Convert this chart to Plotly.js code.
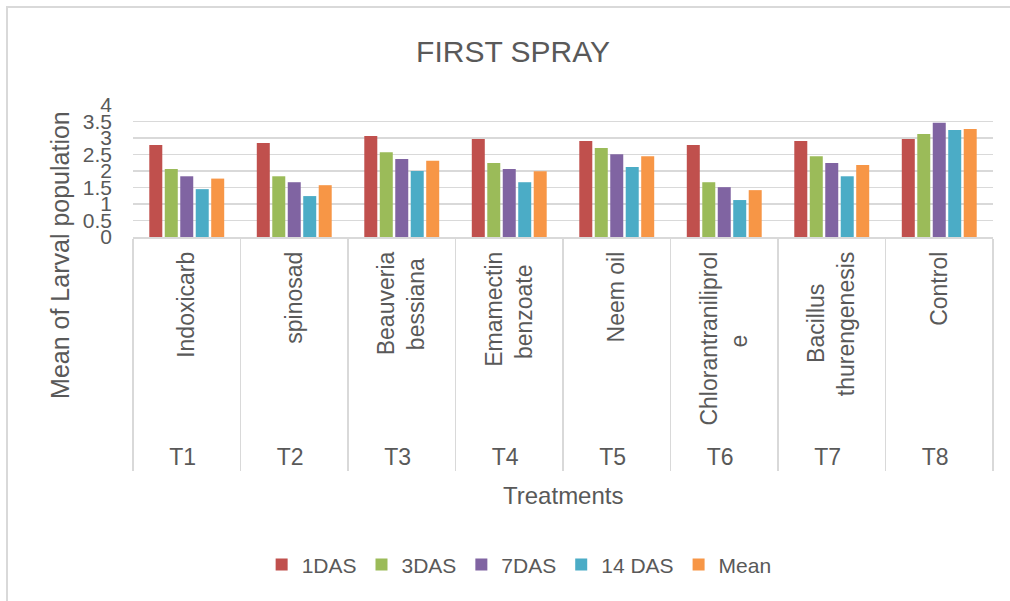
<!DOCTYPE html>
<html>
<head>
<meta charset="utf-8">
<script src="https://cdn.plot.ly/plotly-3.0.1.min.js"></script>
<style>
  html, body { margin: 0; padding: 0; background: #fff; }
  #wrap { position: relative; width: 1010px; height: 601px; }
  #chart { width: 1010px; height: 601px; }
  #frame { position: absolute; left: 6px; top: 6px; right: -10px; bottom: -10px;
           border-left: 2px solid #d9d9d9; border-top: 2px solid #d9d9d9; pointer-events: none; }
</style>
</head>
<body>
<div id="wrap"><div id="chart"></div><div id="frame"></div></div>
<script>
const NB = "\u00A0";
// Treatment codes (outer level) and names (inner level)
const treatments = ["T1", "T2", "T3", "T4", "T5", "T6", "T7", "T8"];
const treatmentNames = ["Indoxicarb", "spinosad", "Beauveria<br>bessiana" + NB,
                        "Emamectin<br>benzoate" + NB + NB,
                        "Neem oil", "Chlorantraniliprol<br>e" + NB.repeat(13),
                        "Bacillus" + NB.repeat(5) + "<br>thurengenesis", "Control"];

// Mean larval population per observation
const das1  = [2.79, 2.85, 3.06, 2.97, 2.91, 2.79, 2.91, 2.97];
const das3  = [2.06, 1.84, 2.57, 2.24, 2.70, 1.66, 2.45, 3.12];
const das7  = [1.84, 1.66, 2.36, 2.06, 2.51, 1.51, 2.24, 3.46];
const das14 = [1.45, 1.24, 2.00, 1.66, 2.12, 1.12, 1.84, 3.24];
const meanV = [1.77, 1.57, 2.31, 1.99, 2.45, 1.42, 2.18, 3.27];

const seriesNames = ["1DAS", "3DAS", "7DAS", "14 DAS", "Mean"];
const seriesColors = ["#C0504D", "#9BBB59", "#8064A2", "#4BACC6", "#F79646"];
const seriesValues = [das1, das3, das7, das14, meanV];

const FONT = "'Liberation Sans', Arial, sans-serif";
const GREY = "#595959";

const traces = seriesValues.map((vals, i) => ({
  type: "bar",
  name: seriesNames[i],
  x: [treatments, treatmentNames],
  y: vals,
  marker: { color: seriesColors[i] },
  hoverinfo: "y+name"
}));

const layout = {
  width: 1010,
  height: 601,
  margin: { l: 133, r: 17, t: 105, b: 364 },
  paper_bgcolor: "#ffffff",
  plot_bgcolor: "#ffffff",
  font: { family: FONT, color: GREY },
  title: {
    text: "FIRST SPRAY",
    font: { family: FONT, size: 30, color: GREY },
    xref: "container", x: 0.508, xanchor: "center",
    yref: "container", y: 0.914, yanchor: "middle"
  },
  barmode: "group",
  bargap: 0.28,
  bargroupgap: 0.16,
  xaxis: {
    type: "multicategory",
    tickangle: -90,
    tickfont: { family: FONT, size: 23, color: GREY },
    ticklabelstandoff: 4,
    showline: true, linecolor: "#d9d9d9", linewidth: 1.5,
    showdividers: true, dividercolor: "#d9d9d9", dividerwidth: 1.5,
    showgrid: false,
    automargin: false
  },
  yaxis: {
    range: [0, 4],
    tickvals: [0, 0.5, 1, 1.5, 2, 2.5, 3, 3.5, 4],
    ticktext: ["0", "0.5", "1", "1.5", "2", "2.5", "3", "3.5", "4"],
    tickfont: { family: FONT, size: 21, color: GREY },
    gridcolor: "#d9d9d9", gridwidth: 1.5,
    zeroline: false, showline: false,
    ticklabelstandoff: 20,
    automargin: false
  },
  annotations: [
    {
      text: "Mean of Larval population", textangle: -90,
      xref: "paper", yref: "paper", x: -0.0849, y: -0.136,
      xanchor: "center", yanchor: "middle", showarrow: false,
      font: { family: FONT, size: 25, color: GREY }
    },
    {
      text: "Treatments",
      xref: "paper", yref: "paper", x: 0.5, y: -1.955,
      xanchor: "center", yanchor: "middle", showarrow: false,
      font: { family: FONT, size: 24, color: GREY }
    }
  ],
  showlegend: true,
  legend: {
    orientation: "h",
    xref: "container", x: 0.514, xanchor: "center",
    yref: "container", y: 0.06, yanchor: "middle",
    font: { family: FONT, size: 21, color: GREY },
    itemwidth: 30,
    bgcolor: "rgba(0,0,0,0)"
  }
};

Plotly.newPlot("chart", traces, layout, { displayModeBar: false, staticPlot: true });
</script>
</body>
</html>
